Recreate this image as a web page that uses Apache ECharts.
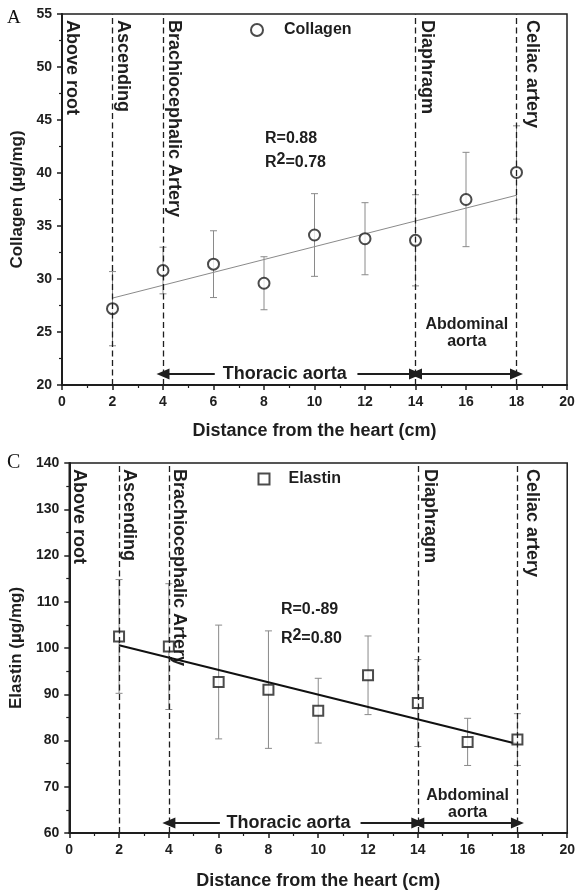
<!DOCTYPE html>
<html>
<head>
<meta charset="utf-8">
<script src="https://cdn.jsdelivr.net/npm/echarts@6/dist/echarts.min.js"></script>
<style>
html,body{margin:0;padding:0;background:#fff;}
#c{width:578px;height:894px;}
</style>
</head>
<body>
<div id="c"></div>
<script>
// ---------- data ----------
const xs = [2, 4, 6, 8, 10, 12, 14, 16, 18];
const collagenMean = [27.2, 30.8, 31.4, 29.6, 34.15, 33.8, 33.65, 37.5, 40.05];
const collagenErr  = [3.5, 2.2, 3.15, 2.5, 3.9, 3.4, 4.3, 4.45, 4.4];
const elastinMean  = [102.5, 100.3, 92.65, 91.0, 86.45, 94.1, 88.1, 79.7, 80.2];
const elastinErr   = [12.3, 13.6, 12.3, 12.7, 7.0, 8.5, 9.4, 5.1, 5.6];
const fitX = [2, 18];
const collagenFitY = [28.2, 37.9];
const elastinFitY  = [100.6, 79.25];
const regionLines = [2, 4, 14, 18];
const regionLabels = ['Above root', 'Ascending', 'Brachiocephalic Artery', 'Diaphragm', 'Celiac artery'];
const regionLabelX = [0, 2, 4, 14, 18];
const xTickRange = [0, 20, 2];
const yTopRange = [20, 55, 5];
const yBotRange = [60, 140, 10];

const FONT = '"Liberation Sans", Arial, Helvetica, sans-serif';
const INK = '#1e1e1e';

const chart = echarts.init(document.getElementById('c'), null, {renderer: 'canvas'});

function errRender(params, api) {
  const x = api.value(0), m = api.value(1), e = api.value(2);
  const hi = api.coord([x, m + e]);
  const lo = api.coord([x, m - e]);
  const cw = 3.5;
  const style = {stroke: '#8a8a8a', lineWidth: 1};
  return {
    type: 'group',
    children: [
      {type: 'line', shape: {x1: hi[0], y1: hi[1], x2: lo[0], y2: lo[1]}, style: style},
      {type: 'line', shape: {x1: hi[0] - cw, y1: hi[1], x2: hi[0] + cw, y2: hi[1]}, style: style},
      {type: 'line', shape: {x1: lo[0] - cw, y1: lo[1], x2: lo[0] + cw, y2: lo[1]}, style: style}
    ]
  };
}

function xAxisDef(gi, gap) {
  return {
    gridIndex: gi, type: 'value', min: xTickRange[0], max: xTickRange[1], interval: xTickRange[2],
    name: 'Distance from the heart (cm)', nameLocation: 'middle', nameGap: gap,
    nameTextStyle: {fontFamily: FONT, fontWeight: 'bold', fontSize: 18, color: INK},
    axisLine: {show: true, onZero: false, lineStyle: {color: INK, width: 2}},
    axisTick: {show: true, length: 5, lineStyle: {color: INK, width: 1.5}},
    minorTick: {show: true, splitNumber: 2, length: 3, lineStyle: {color: INK, width: 1.2}},
    splitLine: {show: false},
    axisLabel: {fontFamily: FONT, fontWeight: 'bold', fontSize: 14, color: INK, margin: 10}
  };
}
function yAxisDef(gi, range, name, gap) {
  return {
    gridIndex: gi, type: 'value', min: range[0], max: range[1], interval: range[2],
    name: name, nameLocation: 'middle', nameGap: gap,
    nameTextStyle: {fontFamily: FONT, fontWeight: 'bold', fontSize: 17, color: INK},
    axisLine: {show: true, onZero: false, lineStyle: {color: INK, width: 2}},
    axisTick: {show: true, length: 5, lineStyle: {color: INK, width: 1.5}},
    minorTick: {show: true, splitNumber: 2, length: 3, lineStyle: {color: INK, width: 1.2}},
    splitLine: {show: false},
    axisLabel: {fontFamily: FONT, fontWeight: 'bold', fontSize: 14, color: INK, margin: 10}
  };
}

function markLines(arrowY) {
  const dashed = regionLines.map(v => ({xAxis: v}));
  const arrowStyle = {type: 'solid', width: 2, color: INK};
  const arrows = [
    [{coord: [6.05, arrowY], symbol: 'none', lineStyle: arrowStyle}, {coord: [4, arrowY], symbol: 'triangle'}],
    [{coord: [11.7, arrowY], symbol: 'none', lineStyle: arrowStyle}, {coord: [14, arrowY], symbol: 'triangle'}],
    [{coord: [14, arrowY], symbol: 'triangle', lineStyle: arrowStyle}, {coord: [18, arrowY], symbol: 'triangle'}]
  ];
  return {
    silent: true, animation: false,
    symbol: ['none', 'none'], symbolSize: [11, 13],
    label: {show: false},
    lineStyle: {type: [6, 3.5], color: INK, width: 1.3},
    data: dashed.concat(arrows)
  };
}

const option = {
  animation: false,
  backgroundColor: '#fff',
  grid: [
    {left: 62, top: 14, width: 505, height: 371, show: true, borderColor: INK, borderWidth: 1.5, backgroundColor: 'transparent'},
    {left: 69, top: 463, width: 506, height: 370, show: true, borderColor: INK, borderWidth: 1.5, backgroundColor: 'transparent'}
  ],
  xAxis: [xAxisDef(0, 37), xAxisDef(1, 39)],
  yAxis: [
    yAxisDef(0, yTopRange, 'Collagen (\u00b5g/mg)', 33),
    yAxisDef(1, yBotRange, 'Elastin (\u00b5g/mg)', 41)
  ],
  legend: [
    {data: ['Collagen'], left: 250, top: 22, itemWidth: 12, itemHeight: 12, padding: 0,
     textStyle: {fontFamily: FONT, fontWeight: 'bold', fontSize: 16, color: INK, padding: [0, 0, 0, 16]}},
    {data: ['Elastin'], left: 257.5, top: 471, itemWidth: 11, itemHeight: 11, padding: 0,
     textStyle: {fontFamily: FONT, fontWeight: 'bold', fontSize: 16, color: INK, padding: [0, 0, 0, 14]}}
  ],
  series: [
    {type: 'custom', xAxisIndex: 0, yAxisIndex: 0, renderItem: errRender, z: 1,
     encode: {x: 0, y: 1},
     data: xs.map((x, i) => [x, collagenMean[i], collagenErr[i]])},
    {type: 'line', xAxisIndex: 0, yAxisIndex: 0, z: 2, symbol: 'none',
     lineStyle: {color: '#8a8a8a', width: 1},
     data: fitX.map((x, i) => [x, collagenFitY[i]]),
     markLine: markLines(21.04)},
    {type: 'scatter', name: 'Collagen', xAxisIndex: 0, yAxisIndex: 0, z: 4,
     symbol: 'emptyCircle', symbolSize: 11,
     itemStyle: {color: INK, borderColor: INK, borderWidth: 1.2},
     data: xs.map((x, i) => [x, collagenMean[i]])},

    {type: 'custom', xAxisIndex: 1, yAxisIndex: 1, renderItem: errRender, z: 1,
     encode: {x: 0, y: 1},
     data: xs.map((x, i) => [x, elastinMean[i], elastinErr[i]])},
    {type: 'line', xAxisIndex: 1, yAxisIndex: 1, z: 2, symbol: 'none',
     lineStyle: {color: '#111', width: 2},
     data: fitX.map((x, i) => [x, elastinFitY[i]]),
     markLine: markLines(62.16)},
    {type: 'scatter', name: 'Elastin', xAxisIndex: 1, yAxisIndex: 1, z: 4,
     symbol: 'emptyRect', symbolSize: 10,
     itemStyle: {color: INK, borderColor: INK, borderWidth: 1.2},
     data: xs.map((x, i) => [x, elastinMean[i]])}
  ]
};
chart.setOption(option);

// ---------- annotations placed through the axes ----------
const ctx = document.createElement('canvas').getContext('2d');
function tw(text, font) { ctx.font = font; return ctx.measureText(text).width; }
function px(g, x, y) { return chart.convertToPixel({gridIndex: g}, [x, y]); }

const labFont = 'bold 18px ' + FONT;
const g = [];
const regionDx = [[1, 1, 2, 2, 6.5], [0.5, 0.5, 1, 3, 6]];
const yMaxes = [yTopRange[1], yBotRange[1]];
[0, 1].forEach(gi => {
  regionLabelX.forEach((xv, i) => {
    const p = px(gi, xv, yMaxes[gi]);
    g.push({type: 'text', x: p[0] + regionDx[gi][i], y: p[1] + 6, rotation: -Math.PI / 2, silent: true,
      style: {text: regionLabels[i], font: labFont, fill: INK, align: 'left', verticalAlign: 'bottom'}});
  });
});

// segment names
const thoracicPos = [[8.82, 21.04], [8.81, 62.16]];
const abdominalPos = [[16.03, 24.87], [16.0, 66.3]];
[0, 1].forEach(gi => {
  let p = px(gi, thoracicPos[gi][0], thoracicPos[gi][1]);
  g.push({type: 'text', x: p[0], y: p[1], silent: true,
    style: {text: 'Thoracic aorta', font: labFont, fill: INK, align: 'center', verticalAlign: 'middle'}});
  p = px(gi, abdominalPos[gi][0], abdominalPos[gi][1]);
  g.push({type: 'text', x: p[0], y: p[1], silent: true,
    style: {text: 'Abdominal\naorta', font: 'bold 16px ' + FONT, lineHeight: 17, fill: INK, align: 'center', verticalAlign: 'middle'}});
});

// correlation text
const rFont = 'bold 16px ' + FONT;
const supFont = 'bold 16px ' + FONT;
const rTexts = [['R=0.88', '0.78'], ['R=0.-89', '0.80']];
const rPos = [[[8.04, 43.2], [8.04, 41.0]], [[8.5, 108.4], [8.5, 102.0]]];
[0, 1].forEach(gi => {
  let p = px(gi, rPos[gi][0][0], rPos[gi][0][1]);
  g.push({type: 'text', x: p[0], y: p[1], silent: true,
    style: {text: rTexts[gi][0], font: rFont, fill: INK, align: 'left', verticalAlign: 'middle'}});
  p = px(gi, rPos[gi][1][0], rPos[gi][1][1]);
  const wR = tw('R', rFont), w2 = tw('2', supFont);
  g.push({type: 'text', x: p[0], y: p[1], silent: true,
    style: {text: 'R', font: rFont, fill: INK, align: 'left', verticalAlign: 'middle'}});
  g.push({type: 'text', x: p[0] + wR, y: p[1] - 3, silent: true,
    style: {text: '2', font: supFont, fill: INK, align: 'left', verticalAlign: 'middle'}});
  g.push({type: 'text', x: p[0] + wR + w2, y: p[1], silent: true,
    style: {text: '=' + rTexts[gi][1], font: rFont, fill: INK, align: 'left', verticalAlign: 'middle'}});
});

// panel letters
g.push({type: 'text', x: 7, y: 18, silent: true,
  style: {text: 'A', font: '19px "Liberation Serif", "Times New Roman", serif', fill: '#111', align: 'left', verticalAlign: 'middle'}});
g.push({type: 'text', x: 7, y: 463, silent: true,
  style: {text: 'C', font: '20px "Liberation Serif", "Times New Roman", serif', fill: '#111', align: 'left', verticalAlign: 'middle'}});

chart.setOption({graphic: g});
</script>
</body>
</html>
